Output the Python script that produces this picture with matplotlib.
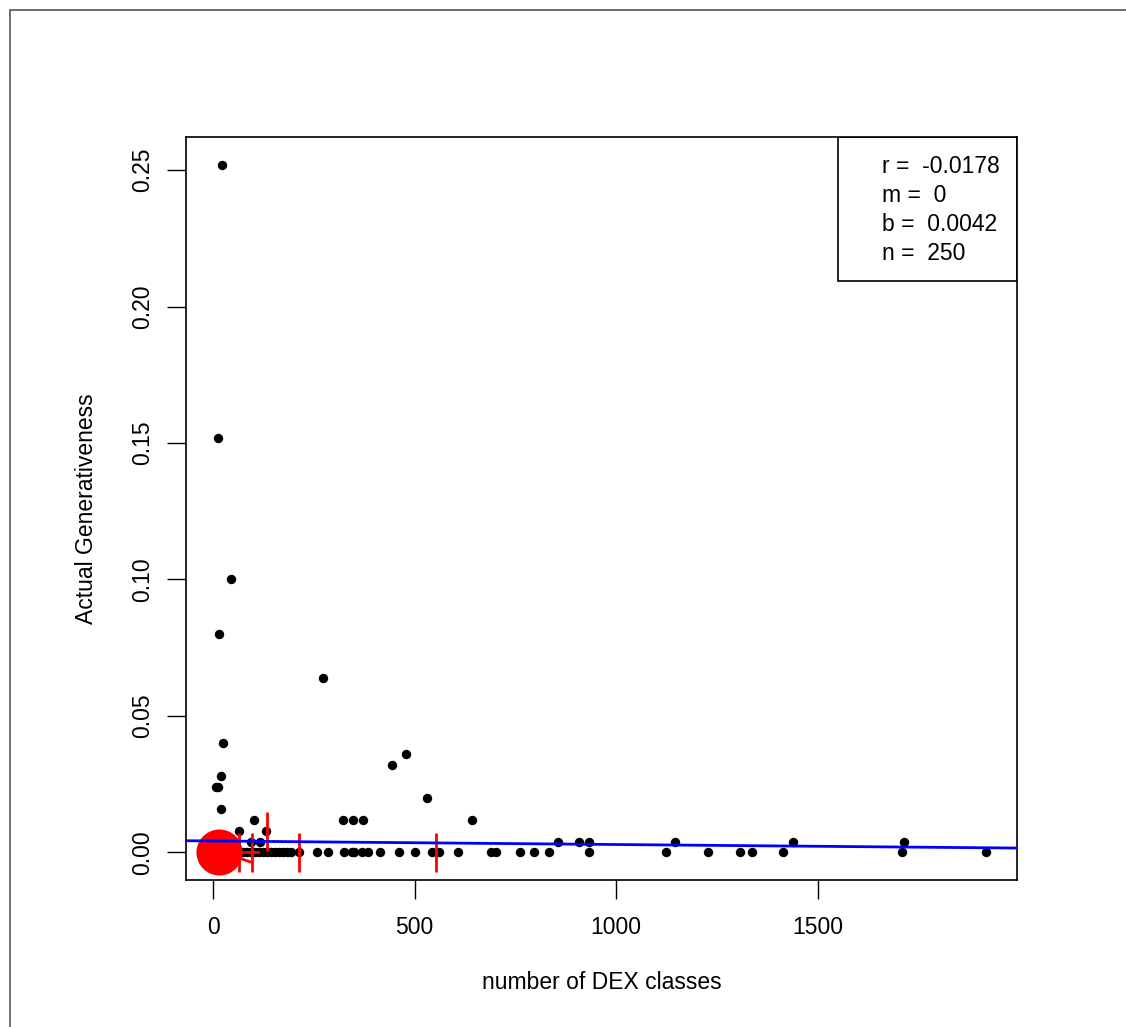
import numpy as np
import matplotlib.pyplot as plt
from matplotlib.patches import Rectangle

plt.rcParams['font.family'] = ['Liberation Sans', 'DejaVu Sans']

# number of DEX classes vs actual generativeness
dex_x = [22, 12, 45, 15, 273, 25, 20, 7, 12, 20, 65, 102, 132, 94, 117,
         75, 85, 95, 105,
         114, 124, 134, 144, 154, 164, 174, 184, 194, 213,
         258, 285, 325, 345, 350, 370, 385, 414, 462, 501, 543, 561, 608,
         690, 702, 762, 797, 834, 933, 1124, 1228, 1308, 1337, 1414, 1710, 1918,
         856, 908, 933, 1146, 1439, 1715,
         323, 347, 372, 643, 531, 444, 479]
gen_y = [0.252, 0.152, 0.100, 0.080, 0.064, 0.040, 0.028, 0.024, 0.024, 0.016, 0.008, 0.012, 0.008, 0.004, 0.004,
         0.0, 0.0, 0.0, 0.0,
         0.0, 0.0, 0.0, 0.0, 0.0, 0.0, 0.0, 0.0, 0.0, 0.0,
         0.0, 0.0, 0.0, 0.0, 0.0, 0.0, 0.0, 0.0, 0.0, 0.0, 0.0, 0.0, 0.0,
         0.0, 0.0, 0.0, 0.0, 0.0, 0.0, 0.0, 0.0, 0.0, 0.0, 0.0, 0.0, 0.0,
         0.004, 0.004, 0.004, 0.004, 0.004, 0.004,
         0.012, 0.012, 0.012, 0.012, 0.020, 0.032, 0.036]

# red vertical bars (x, low, high)
bar_x = [65, 97, 134, 213, 553]
bar_lo = [-0.0073, -0.0073, 0.0007, -0.0073, -0.0073]
bar_hi = [0.0070, 0.0070, 0.0147, 0.0070, 0.0070]

# overplotted cluster near the origin
blob_x, blob_y = 15, 0.0
spoke_x0 = [60, 60]
spoke_y0 = [0.0003, -0.0018]
spoke_x1 = [112, 97]
spoke_y1 = [0.0003, -0.0037]

# fit stats
r_val, m_val, b_val, n_val = -0.0178, 0, 0.0042, 250
slope = -1.3e-6

fig = plt.figure(figsize=(11.26, 10.27), dpi=100)
fig.patches.append(Rectangle((10 / 1126, -0.1), 1.2, 1 - 10 / 1027 + 0.1,
                             transform=fig.transFigure, fill=False,
                             edgecolor='#555555', lw=1.2))
ax = fig.add_axes([186 / 1126, 1 - 880 / 1027, (1017 - 186) / 1126, (880 - 137) / 1027])

ax.scatter(dex_x, gen_y, s=46, color='black', zorder=3, linewidths=0)
ax.vlines(bar_x, bar_lo, bar_hi, color='red', lw=2, zorder=4)
for x0, y0, x1, y1 in zip(spoke_x0, spoke_y0, spoke_x1, spoke_y1):
    ax.plot([x0, x1], [y0, y1], color='red', lw=2, zorder=4)
ax.scatter([blob_x], [blob_y], s=1100, color='red', zorder=4, linewidths=0)

xl = (-67, 1995)
ax.set_xlim(xl)
ax.set_ylim(-0.0101, 0.2621)
xx = np.array(xl)
ax.plot(xx, b_val + slope * xx, color='blue', lw=2, zorder=5)

ax.set_xticks([0, 500, 1000, 1500])
ax.set_yticks([0.0, 0.05, 0.10, 0.15, 0.20, 0.25])
ax.set_yticklabels(['0.00', '0.05', '0.10', '0.15', '0.20', '0.25'],
                   rotation=90, va='center')
ax.tick_params(axis='both', labelsize=16.5, length=14, width=1)
ax.tick_params(axis='x', pad=12)
ax.tick_params(axis='y', pad=9)
for s in ax.spines.values():
    s.set_linewidth(1.2)

ax.set_xlabel('number of DEX classes', fontsize=16.5, labelpad=23)
ax.set_ylabel('Actual Generativeness', fontsize=16.5, labelpad=24)

# stats box
box_w = (1017 - 838) / (1017 - 186)
box_h = (281 - 137) / (880 - 137)
ax.add_patch(Rectangle((1 - box_w, 1 - box_h), box_w, box_h, transform=ax.transAxes,
                       fill=False, edgecolor='black', lw=1.2, zorder=6))
lines = ['r =  %s' % r_val, 'm =  %s' % m_val, 'b =  %s' % b_val, 'n =  %s' % n_val]
for i, t in enumerate(lines):
    ax.text((882 - 186) / (1017 - 186), (880 - 167 - i * 29) / (880 - 137), t,
            transform=ax.transAxes, fontsize=16.5, va='center', ha='left', zorder=6)

fig.savefig('out.png', dpi=100)
